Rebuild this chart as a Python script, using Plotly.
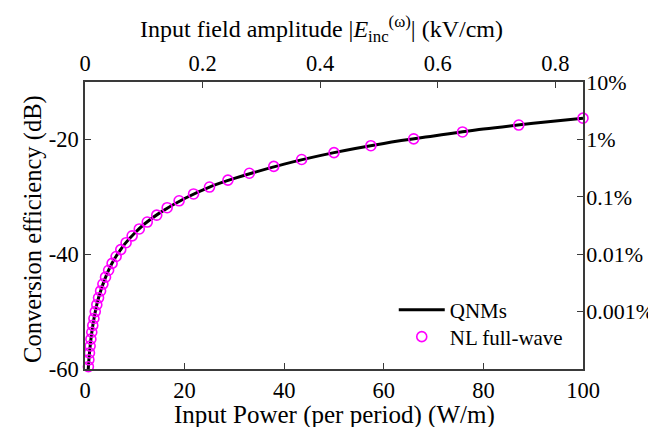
import plotly.graph_objects as go

# QNM curve
qnm_power = [0.65, 0.8, 1, 1.25, 1.5, 2, 2.5, 3, 4, 5, 6, 7, 8, 10, 12, 15, 20, 25, 30,
             40, 50, 60, 70, 80, 90, 100]
qnm_db = [-60.0, -58.2, -56.3, -54.4, -52.8, -50.3, -48.3, -46.8, -44.3, -42.3, -40.7,
          -39.4, -38.2, -36.3, -34.7, -32.8, -30.3, -28.3, -26.8, -24.3, -22.3, -20.7,
          -19.4, -18.2, -17.2, -16.3]

# NL full-wave points
fw_power = [100, 87.1, 75.8, 66.0, 57.4, 50.0, 43.5, 37.9, 33.0, 28.7, 25.0, 21.8, 18.9,
            16.5, 14.4, 12.5, 10.9, 9.47, 8.25, 7.18, 6.25, 5.44, 4.74, 4.12, 3.59, 3.13,
            2.72, 2.37, 2.06, 1.79, 1.56, 1.36, 1.18, 1.03, 0.90, 0.78, 0.68]
fw_db = [-16.3, -17.5, -18.7, -19.9, -21.1, -22.3, -23.5, -24.7, -25.9, -27.1, -28.3, -29.5,
         -30.7, -31.9, -33.2, -34.4, -35.6, -36.8, -38.0, -39.2, -40.4, -41.6, -42.8, -44.0,
         -45.2, -46.4, -47.6, -48.8, -50.0, -51.2, -52.4, -53.6, -54.8, -56.0, -57.2, -58.4,
         -59.6]

left_ticks = [-60, -40, -20]
left_labels = ["-60", "-40", "-20"]
right_ticks = [-50, -40, -30, -20, -10]
right_labels = ["0.001%", "0.01%", "0.1%", "1%", "10%"]
bottom_ticks = [0, 20, 40, 60, 80, 100]
top_ticks = [0, 0.2, 0.4, 0.6, 0.8]
top_labels = ["0", "0.2", "0.4", "0.6", "0.8"]

title_bottom = "Input Power (per period) (W/m)"
title_left = "Conversion efficiency (dB)"
title_top = "Input field amplitude |<i>E</i><sub>inc</sub><sup>(ω)</sup>| (kV/cm)"

FONT = "Liberation Serif"
FS = 22.5    # tick labels
LFS = 21     # legend
AX = "#3a3a3a"

fig = go.Figure()
fig.add_trace(go.Scatter(x=qnm_power, y=qnm_db, mode="lines", name="QNMs",
                         line=dict(color="black", width=3, shape="spline"),
                         cliponaxis=False, legend="legend"))
fig.add_trace(go.Scatter(x=fw_power, y=fw_db, mode="markers", name="NL full-wave",
                         marker=dict(symbol="circle-open", color="#ff00ff", size=10,
                                     line=dict(width=1.6, color="#ff00ff")),
                         cliponaxis=False, legend="legend2"))
# invisible trace to carry secondary axes
fig.add_trace(go.Scatter(x=[0], y=[-60], xaxis="x2", yaxis="y2", mode="markers",
                         marker=dict(opacity=0), showlegend=False, hoverinfo="skip"))

axis_common = dict(showline=True, linecolor=AX, linewidth=1.5, mirror=False,
                   showgrid=False, zeroline=False, ticks="inside", ticklen=6,
                   tickwidth=1.3, tickcolor=AX, automargin=False)

legend_common = dict(xanchor="left", yanchor="middle", bgcolor="rgba(0,0,0,0)",
                     font=dict(family=FONT, size=LFS, color="black"), itemwidth=46,
                     borderwidth=0)

tf = dict(family=FONT, size=FS, color="black")

fig.update_layout(
    width=656, height=427,
    margin=dict(l=77, r=81, t=74, b=66),
    paper_bgcolor="white", plot_bgcolor="white",
    font=dict(family=FONT, size=FS, color="black"),
    xaxis=dict(range=[0, 100], tickvals=bottom_ticks, tickfont=tf, **axis_common),
    yaxis=dict(range=[-60, -10], tickvals=left_ticks, ticktext=left_labels, tickfont=tf,
               **axis_common),
    xaxis2=dict(range=[0, 0.847], overlaying="x", side="top", anchor="y",
                tickvals=top_ticks, ticktext=top_labels, tickfont=tf, **axis_common),
    yaxis2=dict(range=[-60, -10], overlaying="y", side="right", anchor="x",
                tickvals=right_ticks, ticktext=right_labels, ticklabelstandoff=-3,
                tickfont=dict(family=FONT, size=22, color="black"), **axis_common),
    legend=dict(x=0.62, y=0.2056, **legend_common),
    legend2=dict(x=0.62, y=0.1115, **legend_common),
    showlegend=True,
    annotations=[
        dict(text=title_bottom, xref="paper", yref="paper", x=0.5, y=-0.1603,
             xanchor="center", yanchor="middle", showarrow=False,
             font=dict(family=FONT, size=25, color="black")),
        dict(text=title_left, xref="paper", yref="paper", x=-0.1044, y=0.488,
             xanchor="center", yanchor="middle", showarrow=False, textangle=-90,
             font=dict(family=FONT, size=24.5, color="black")),
        dict(text=title_top, xref="paper", yref="paper", x=0.475, y=1.1847,
             xanchor="center", yanchor="middle", showarrow=False,
             font=dict(family=FONT, size=24, color="black")),
    ],
)

fig.write_html("out.html")
